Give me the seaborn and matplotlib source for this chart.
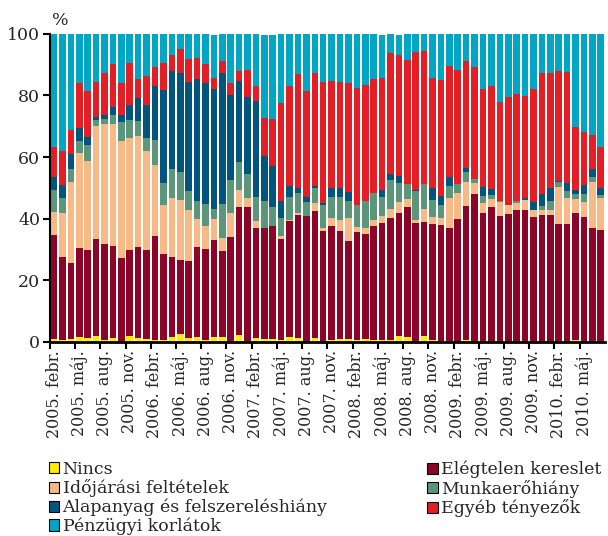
import numpy as np
import pandas as pd
import seaborn as sns
import matplotlib.pyplot as plt
from matplotlib.patches import Patch

# tick labels (every 3rd month, starting 2005 Feb)
tick_labels = ["2005. febr.", "2005. máj.", "2005. aug.", "2005. nov.",
               "2006. febr.", "2006. máj.", "2006. aug.", "2006. nov.",
               "2007. febr.", "2007. máj.", "2007. aug.", "2007. nov.",
               "2008. febr.", "2008. máj.", "2008. aug.", "2008. nov.",
               "2009. febr.", "2009. máj.", "2009. aug.", "2009. nov.",
               "2010. febr.", "2010. máj."]

# monthly shares (%), 2005 Feb - 2010 Jul
nincs = [0.9, 0.6, 1.0, 1.6, 1.3, 1.9, 0.6, 1.3, 0.0, 1.9, 1.3, 1.0,
         0.6, 0.6, 1.6, 2.6, 1.3, 1.6, 0.6, 1.6, 1.6, 0.0, 2.3, 0.3,
         1.3, 1.0, 1.0, 0.6, 1.6, 1.3, 0.0, 1.3, 0.3, 0.6, 1.0, 1.0,
         0.6, 1.0, 0.6, 0.6, 0.6, 1.9, 1.6, 0.0, 1.9, 0.6, 0.3, 0.3,
         0.1, 0.6, 0.1, 0.0, 0.1, 0.0, 0.1, 0.0, 0.0, 0.1, 0.0, 0.0,
         0.1, 0.1, 0.6, 0.0, 0.1, 0.0]
keresl = [33.8, 27.0, 24.6, 28.9, 28.4, 31.5, 31.2, 29.9, 27.3, 27.8, 29.5, 28.9,
          33.8, 28.0, 26.0, 24.0, 25.0, 29.2, 29.6, 31.5, 27.9, 34.1, 41.5, 43.5,
          35.7, 36.0, 36.7, 32.8, 37.7, 39.9, 40.9, 41.2, 35.7, 37.1, 35.0, 31.8,
          35.1, 34.1, 37.1, 38.0, 39.7, 40.0, 42.2, 38.6, 37.1, 37.7, 37.7, 36.7,
          39.8, 43.6, 48.0, 41.9, 43.7, 40.9, 41.5, 42.9, 42.9, 40.5, 41.2, 41.2,
          38.2, 38.2, 41.3, 40.6, 36.9, 36.4]
idojaras = [7.5, 14.1, 26.3, 30.9, 29.1, 36.7, 39.0, 39.6, 38.0, 36.5, 36.1, 32.1,
            23.1, 15.9, 19.2, 19.5, 16.6, 9.1, 7.5, 6.8, 4.3, 7.8, 5.6, 3.0,
            2.3, 0.0, 0.0, 1.0, 0.3, 0.7, 0.0, 2.6, 1.0, 2.6, 3.6, 7.5,
            1.6, 1.9, 1.9, 2.3, 2.9, 3.6, 2.6, 1.0, 4.2, 2.3, 2.3, 9.8,
            8.5, 7.7, 3.5, 3.2, 2.6, 4.6, 2.9, 2.2, 3.2, 2.3, 1.7, 1.7,
            12.0, 8.5, 4.5, 4.9, 14.9, 10.4]
munkaero = [7.2, 5.1, 4.3, 3.9, 5.2, 2.0, 1.6, 2.9, 6.1, 5.9, 4.9, 4.2,
            8.1, 7.1, 9.4, 9.1, 6.1, 5.9, 7.1, 3.3, 11.0, 10.7, 9.0, 7.7,
            7.8, 8.8, 6.1, 5.9, 7.5, 6.5, 4.6, 4.9, 7.5, 6.8, 7.5, 5.5,
            7.2, 8.8, 8.8, 6.2, 9.4, 6.1, 4.9, 9.4, 8.1, 5.5, 4.2, 3.8,
            2.9, 3.3, 1.3, 2.3, 1.3, 0.3, 0.0, 0.7, 0.0, 0.0, 1.3, 2.9,
            1.6, 2.2, 1.7, 2.6, 1.7, 0.9]
alapanyag = [4.0, 4.0, 4.8, 4.2, 2.6, 1.0, 1.3, 2.6, 2.3, 4.9, 7.4, 10.8,
             17.5, 30.2, 31.8, 32.1, 35.4, 39.6, 39.3, 38.9, 42.5, 27.6, 26.3, 25.0,
             31.1, 14.6, 13.3, 5.5, 3.5, 1.6, 1.4, 0.6, 0.6, 2.9, 2.9, 2.9,
             0.0, 0.0, 0.0, 2.3, 1.9, 2.3, 0.0, 0.4, 0.0, 3.9, 2.9, 3.0,
             0.0, 1.3, 0.0, 2.9, 2.0, 0.0, 0.0, 0.0, 0.7, 2.6, 3.9, 4.2,
             0.4, 2.6, 1.3, 2.9, 2.6, 2.3]
egyeb = [9.9, 11.2, 7.9, 14.6, 14.7, 11.3, 13.6, 14.0, 10.4, 13.6, 6.2, 9.4,
         6.2, 8.8, 5.0, 7.8, 7.5, 6.8, 6.2, 3.6, 3.9, 3.9, 3.3, 8.8,
         4.9, 12.3, 15.3, 31.6, 32.5, 37.0, 34.6, 36.7, 39.3, 34.7, 34.4, 35.4,
         38.0, 37.6, 37.0, 36.3, 39.3, 39.3, 40.3, 44.8, 43.2, 35.7, 37.7, 36.0,
         37.0, 34.7, 36.4, 31.8, 33.4, 32.1, 35.0, 34.7, 33.1, 36.6, 39.2, 37.3,
         35.7, 36.1, 20.4, 17.2, 11.0, 13.3]
penzugyi = [36.7, 38.0, 31.1, 15.9, 18.7, 15.6, 12.7, 9.7, 15.9, 9.4, 14.6, 13.6,
            10.7, 9.4, 7.0, 4.9, 8.1, 7.8, 9.7, 14.0, 8.8, 15.9, 12.0, 11.7,
            16.9, 27.0, 27.3, 22.6, 16.9, 13.0, 18.5, 12.7, 15.6, 15.3, 15.6, 15.9,
            17.5, 16.6, 14.6, 14.0, 6.2, 6.5, 8.4, 5.8, 5.5, 14.3, 14.9, 10.4,
            11.7, 8.8, 10.7, 17.9, 16.9, 22.1, 20.5, 19.5, 20.1, 17.9, 12.7, 12.7,
            12.0, 12.3, 30.2, 31.8, 32.8, 36.7]

series = {
    "Pénzügyi korlátok": penzugyi,
    "Egyéb tényezők": egyeb,
    "Alapanyag és felszereléshiány": alapanyag,
    "Munkaerőhiány": munkaero,
    "Időjárási feltételek": idojaras,
    "Elégtelen kereslet": keresl,
    "Nincs": nincs,
}
colors = {
    "Nincs": "#FFEC00",
    "Elégtelen kereslet": "#8C0527",
    "Időjárási feltételek": "#F7BA86",
    "Munkaerőhiány": "#5B957A",
    "Alapanyag és felszereléshiány": "#00557F",
    "Egyéb tényezők": "#E31E24",
    "Pénzügyi korlátok": "#00A6C4",
}

n = len(nincs)
rows = []
for name, vals in series.items():
    for i, v in enumerate(vals):
        rows.append({"ho": i, "tenyezo": name, "ertek": v})
df = pd.DataFrame(rows)

sns.set_style("ticks")
plt.rcParams["font.family"] = ["DejaVu Serif"]
fs = 12.5

fig = plt.figure(figsize=(6.08, 5.36), dpi=100)
ax = fig.add_axes([0.082, 0.362, 0.913, 0.575])

# first hue level ends up on top of the stack
sns.histplot(data=df, x="ho", weights="ertek", hue="tenyezo",
             hue_order=list(series.keys()), palette=colors,
             multiple="stack", discrete=True, shrink=0.78,
             edgecolor="none", linewidth=0, alpha=1, legend=False, ax=ax)

ax.set_xlim(-0.5, n - 0.5)
ax.set_ylim(0, 100)
ax.set_yticks([0, 20, 40, 60, 80, 100])
ax.set_xlabel("")
ax.set_ylabel("")
ax.set_xticks(np.arange(0, n, 3))
ax.set_xticklabels(tick_labels, rotation=90, fontsize=11.5)
ax.set_xticks(np.arange(0, n, 3) - 0.5, minor=True)
ax.tick_params(axis="x", which="major", length=0, pad=6)
ax.tick_params(axis="x", which="minor", length=5, width=1.5, color="black")
ax.tick_params(axis="y", length=5, width=1.5, color="black", labelsize=fs, pad=2)
sns.despine(ax=ax)
ax.spines["bottom"].set_linewidth(2)
ax.spines["left"].set_linewidth(1.5)
ax.spines["bottom"].set_color("black")
ax.spines["left"].set_color("black")
ax.text(0.003, 1.015, "%", transform=ax.transAxes, fontsize=fs, ha="left", va="bottom")

def handle(name):
    return Patch(facecolor=colors[name], edgecolor="black", linewidth=0.8)

left_names = ["Nincs", "Időjárási feltételek", "Alapanyag és felszereléshiány", "Pénzügyi korlátok"]
right_names = ["Elégtelen kereslet", "Munkaerőhiány", "Egyéb tényezők"]
leg_kw = dict(frameon=False, fontsize=fs, handlelength=0.6, handleheight=0.6,
              handletextpad=0.2, labelspacing=0.08, borderaxespad=0, borderpad=0)
fig.legend([handle(k) for k in left_names], left_names,
           loc="upper left", bbox_to_anchor=(0.08, 0.14), **leg_kw)
fig.legend([handle(k) for k in right_names], right_names,
           loc="upper left", bbox_to_anchor=(0.703, 0.14), **leg_kw)

plt.savefig("out.png", dpi=100)
